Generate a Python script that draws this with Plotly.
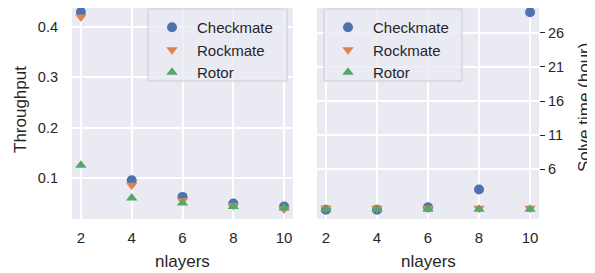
import plotly.graph_objects as go

nlayers = [2, 4, 6, 8, 10]
series = ["Checkmate", "Rockmate", "Rotor"]
throughput_checkmate = [0.430, 0.095, 0.062, 0.049, 0.043]
throughput_rockmate = [0.420, 0.085, 0.055, 0.045, 0.038]
throughput_rotor = [0.125, 0.060, 0.050, 0.043, 0.040]
solve_checkmate = [0.10, 0.10, 0.45, 3.05, 29.0]
solve_rockmate = [0.30, 0.30, 0.30, 0.30, 0.30]
solve_rotor = [0.15, 0.15, 0.15, 0.15, 0.15]
right_ticks = [6, 11, 16, 21, 26]
left_ticks = [0.1, 0.2, 0.3, 0.4]

colors = ["#4C72B0", "#DD8452", "#55A868"]
symbols = ["circle", "triangle-down", "triangle-up"]
FONT = "Arial, Liberation Sans, sans-serif"
TXT = "#262626"
# page body has an 8px margin: the figure is made 8px smaller and
# positions are given in window pixels, shifted by that offset
OFF = 8
W, H = 595 - OFF, 273 - OFF


def px(x):
    return (x - OFF) / W


def py(y):
    return 1 - (y - OFF) / H


# the reference plot area spans window y 2..219; the top 6px cannot be drawn,
# so the plot area starts at y=8 and the top of the range is trimmed accordingly
REF_TOP, BOTTOM = 2, 219
trim = (OFF - REF_TOP) / (BOTTOM - REF_TOP)
left_range = [0.018, 0.45]
right_range = [-1.27, 30.5]
left_range[1] -= trim * (left_range[1] - left_range[0])
right_range[1] -= trim * (right_range[1] - right_range[0])

fig = go.Figure()
left_data = [throughput_checkmate, throughput_rockmate, throughput_rotor]
right_data = [solve_checkmate, solve_rockmate, solve_rotor]
for name, ys, c, s in zip(series, left_data, colors, symbols):
    fig.add_trace(go.Scatter(x=nlayers, y=ys, mode="markers", name=name, cliponaxis=False,
                             marker=dict(color=c, symbol=s, size=10, line=dict(width=0)),
                             xaxis="x", yaxis="y", legend="legend"))
for name, ys, c, s in zip(series, right_data, colors, symbols):
    fig.add_trace(go.Scatter(x=nlayers, y=ys, mode="markers", name=name, cliponaxis=False,
                             marker=dict(color=c, symbol=s, size=10, line=dict(width=0)),
                             xaxis="x2", yaxis="y2", legend="legend2"))

axis_common = dict(showgrid=True, gridcolor="white", gridwidth=1.5, zeroline=False,
                   showline=False, automargin=False)

fig.update_layout(
    width=W, height=H,
    margin=dict(l=0, r=0, t=0, b=0),
    paper_bgcolor="white", plot_bgcolor="#EAEAF2",
    font=dict(family=FONT, size=15, color=TXT),
    showlegend=True,
    xaxis=dict(domain=[px(72), px(293)], range=[1.65, 10.35], tickvals=nlayers,
               ticks="", anchor="y", ticklabelstandoff=8,
               tickfont=dict(family=FONT, size=15, color=TXT), **axis_common),
    yaxis=dict(domain=[py(BOTTOM), 1], range=left_range,
               tickvals=left_ticks, tickformat=".1f", ticks="", anchor="x",
               ticklabelstandoff=13,
               tickfont=dict(family=FONT, size=14.5, color=TXT), **axis_common),
    xaxis2=dict(domain=[px(317), px(539)], range=[1.65, 10.35], tickvals=nlayers,
                ticks="", anchor="y2", ticklabelstandoff=8,
                tickfont=dict(family=FONT, size=15, color=TXT), **axis_common),
    yaxis2=dict(domain=[py(BOTTOM), 1], range=right_range,
                tickvals=right_ticks, side="right", ticks="outside", ticklen=5,
                tickwidth=1.2, tickcolor=TXT, anchor="x2",
                tickfont=dict(family=FONT, size=14.5, color=TXT), **axis_common),
    legend=dict(x=px(147), y=py(11), xanchor="left", yanchor="top",
                bgcolor="rgba(0,0,0,0)", borderwidth=0,
                font=dict(family=FONT, size=15, color=TXT), itemwidth=40,
                tracegroupgap=0),
    legend2=dict(x=px(323), y=py(11), xanchor="left", yanchor="top",
                 bgcolor="rgba(0,0,0,0)", borderwidth=0,
                 font=dict(family=FONT, size=15, color=TXT), itemwidth=40,
                 tracegroupgap=0),
)

# legend frames
for x0, x1 in [(148, 287), (324, 462)]:
    fig.add_shape(type="rect", xref="paper", yref="paper",
                  x0=px(x0), x1=px(x1), y0=py(81), y1=py(9),
                  fillcolor="rgba(234,234,242,0.8)", line=dict(color="#CCCCCC", width=1),
                  layer="above")

# axis titles
title_font = dict(family=FONT, size=17, color=TXT)
for xc in [182.5, 428]:
    fig.add_annotation(text="nlayers", x=px(xc), y=py(261), xref="paper", yref="paper",
                       showarrow=False, font=title_font, xanchor="center", yanchor="middle")
fig.add_annotation(text="Throughput", x=px(20), y=py(110), xref="paper", yref="paper",
                   showarrow=False, font=title_font, textangle=-90,
                   xanchor="center", yanchor="middle")
fig.add_annotation(text="Solve time (hour)", x=px(584), y=py(108), xref="paper", yref="paper",
                   showarrow=False, font=title_font, textangle=-90,
                   xanchor="center", yanchor="middle")

fig.write_html("out.html")
